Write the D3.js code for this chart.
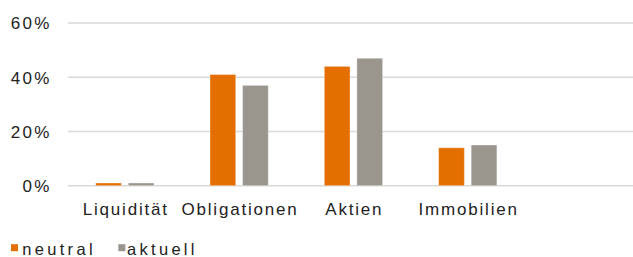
<!DOCTYPE html>
<html>
<head>
<meta charset="utf-8">
<script src="https://cdn.jsdelivr.net/npm/d3@7"></script>
<style>
  body { margin: 0; background: #fff; }
  text { font-family: "Liberation Sans", Arial, sans-serif; fill: #222; }
</style>
</head>
<body>
<div id="chart"></div>
<script>
// data
var categories = ["Liquidität", "Obligationen", "Aktien", "Immobilien"];
var seriesNames = ["neutral", "aktuell"];
var neutral = [0.01, 0.41, 0.44, 0.14];
var aktuell = [0.01, 0.37, 0.47, 0.15];
var yTicks = [0, 0.2, 0.4, 0.6];

var width = 633, height = 257;
var colors = ["#e46e00", "#9b968d"];

var svg = d3.select("#chart")
  .append("svg")
    .attr("width", width)
    .attr("height", height);

var data = categories.map(function(c, i) {
  return {cat: c, neutral: neutral[i], aktuell: aktuell[i]};
});

// set the ranges (plot has one empty slot on the right)
var x = d3.scaleBand()
  .domain(categories.concat([""]))
  .range([67.7, 639.2])
  .padding(0);

var xSub = d3.scaleBand()
  .domain(seriesNames)
  .range([28, 86.3])
  .paddingInner(0.21);

var y = d3.scaleLinear()
  .domain([0, 0.6])
  .range([185.7, 23]);

var color = d3.scaleOrdinal().domain(seriesNames).range(colors);

// gridlines
svg.append("g")
  .selectAll("line")
  .data(yTicks)
  .enter().append("line")
    .attr("x1", 67.7)
    .attr("x2", width)
    .attr("y1", function(d) { return y(d); })
    .attr("y2", function(d) { return y(d); })
    .attr("stroke", "#d9d9d9")
    .attr("stroke-width", 1.4);

// y axis labels (trailing letter-spacing pushes end-anchored text left)
svg.append("g")
  .selectAll("text")
  .data(yTicks)
  .enter().append("text")
    .attr("x", 51.9)
    .attr("y", function(d) { return y(d) + 6.3; })
    .attr("text-anchor", "end")
    .style("font-size", "17px")
    .style("letter-spacing", "2.4px")
    .text(d3.format(".0%"));

// bars
svg.append("g")
  .selectAll("g")
  .data(data)
  .enter().append("g")
    .attr("transform", function(d) { return "translate(" + x(d.cat) + ",0)"; })
  .selectAll("rect")
  .data(function(d) { return seriesNames.map(function(k) { return {key: k, value: d[k]}; }); })
  .enter().append("rect")
    .attr("x", function(d) { return xSub(d.key); })
    .attr("y", function(d) { return y(d.value); })
    .attr("width", xSub.bandwidth())
    .attr("height", function(d) { return y(0) - y(d.value); })
    .attr("fill", function(d) { return color(d.key); })
    .attr("stroke", "#fff")
    .attr("stroke-opacity", 0.35)
    .attr("stroke-width", 1);

// category labels
svg.append("g")
  .selectAll("text")
  .data(categories)
  .enter().append("text")
    .attr("x", function(d) { return x(d) + x.bandwidth() / 2 + 0.9; })
    .attr("y", 214.6)
    .attr("text-anchor", "middle")
    .style("font-size", "17px")
    .style("letter-spacing", "1.8px")
    .text(function(d) { return d; });

// legend
var legBox = [11, 118.3];
var legText = [22.3, 127];
var legend = svg.append("g")
  .selectAll("g")
  .data(seriesNames)
  .enter().append("g");
legend.append("rect")
  .attr("x", function(d, i) { return legBox[i]; })
  .attr("y", 244.2)
  .attr("width", 7)
  .attr("height", 7)
  .attr("fill", function(d) { return color(d); });
legend.append("text")
  .attr("x", function(d, i) { return legText[i]; })
  .attr("y", 254.8)
  .style("font-size", "16.5px")
  .style("letter-spacing", "3.3px")
  .text(function(d) { return d; });
</script>
</body>
</html>
